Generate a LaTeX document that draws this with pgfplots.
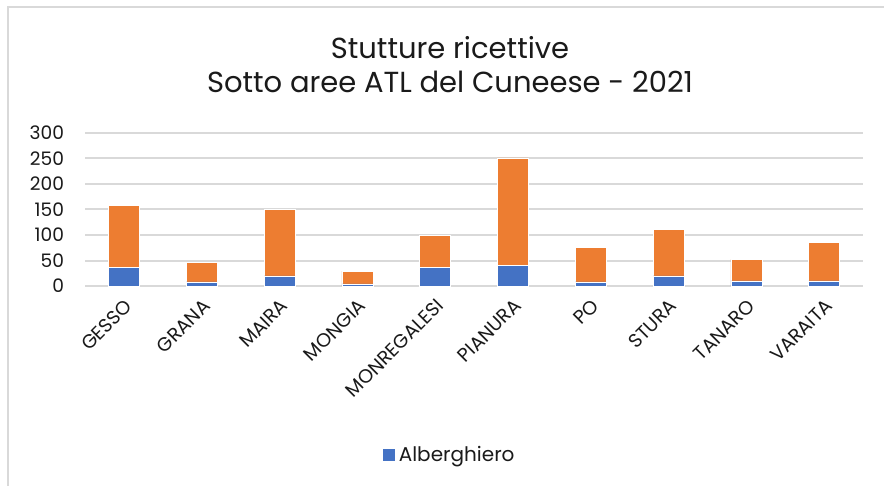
\documentclass[border=0pt]{standalone}
\usepackage{fontspec}
\setmainfont{Poppins}
\usepackage{pgfplots}
\pgfplotsset{compat=1.18}
\definecolor{cblue}{HTML}{4472C4}
\definecolor{corange}{HTML}{ED7D31}
\definecolor{cgrid}{HTML}{D9D9D9}
\definecolor{ctext}{HTML}{1A1A1A}
\begin{document}
\begin{tikzpicture}
\useasboundingbox (0,0) rectangle (442pt,-243pt);
\fill[white] (0,0) rectangle (442pt,-243pt);
\draw[cgrid, line width=1pt] (3.75pt,-260pt) -- (3.75pt,-3.75pt) -- (460pt,-3.75pt);
\node[ctext, font=\fontsize{14.5pt}{17pt}\selectfont] at (225pt,-24pt) {Stutture ricettive};
\node[ctext, font=\fontsize{14.5pt}{17pt}\selectfont] at (225pt,-41pt) {Sotto aree ATL del Cuneese - 2021};
\begin{axis}[
  at={(42.5pt,-143pt)}, anchor=south west,
  scale only axis, width=389pt, height=76.5pt,
  ybar stacked, bar width=15.5pt,
  xmin=-0.5, xmax=9.5, ymin=0, ymax=300,
  ytick={0,50,...,300},
  xtick={0,...,9},
  xticklabels={GESSO,GRANA,MAIRA,MONGIA,MONREGALESI,PIANURA,PO,STURA,TANARO,VARAITA},
  axis line style={draw=none},
  major tick length=0pt,
  ymajorgrids, grid style={cgrid, line width=1pt},
  /pgf/number format/assume math mode=true,
  yticklabel style={font=\fontsize{9.3pt}{11pt}\selectfont, text=ctext, anchor=east, xshift=-7pt},
  xticklabel style={font=\fontsize{9.6pt}{12pt}\selectfont, text=ctext, rotate=45, anchor=north east, inner sep=1pt, xshift=-3pt, yshift=-3pt},
  legend style={draw=none, fill=none, at={(0.47,-1.105)}, anchor=center, font=\fontsize{10pt}{12pt}\selectfont, text=ctext, legend columns=-1},
  legend image code/.code={\fill[#1, draw=none] (0pt,-3pt) rectangle (6pt,3pt);},
]
\addplot[fill=cblue, draw=white, line width=0.3pt] coordinates {(0,36) (1,8) (2,20) (3,4) (4,36) (5,40) (6,8) (7,20) (8,10) (9,10)};
\addlegendentry{Alberghiero}
\addplot[fill=corange, draw=white, line width=0.3pt] coordinates {(0,122) (1,39) (2,130) (3,25) (4,63) (5,211) (6,67) (7,91) (8,42) (9,75)};
\end{axis}
\end{tikzpicture}
\end{document}
